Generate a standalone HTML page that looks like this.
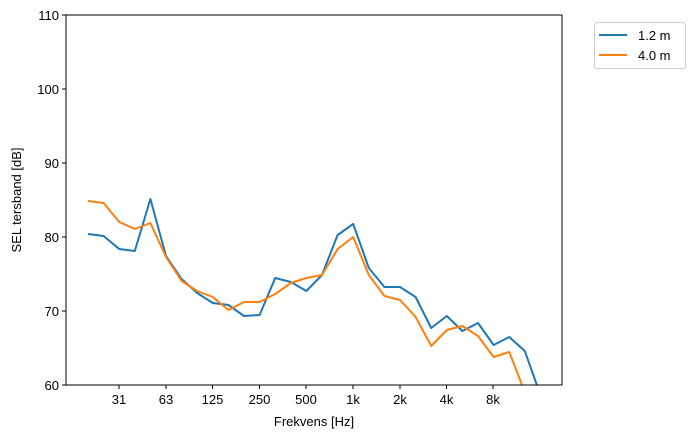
<!DOCTYPE html>
<html><head><meta charset="utf-8"><style>
body{margin:0;background:#fff;}
text{font-family:"Liberation Sans","DejaVu Sans",sans-serif;font-size:13px;fill:#000;}
</style></head><body>
<svg width="693" height="438" viewBox="0 0 693 438" xmlns="http://www.w3.org/2000/svg">
<defs><clipPath id="c"><rect x="66" y="15" width="496" height="370"/></clipPath></defs>
<g clip-path="url(#c)" fill="none" stroke-width="2" stroke-linejoin="round">
<polyline stroke="#1f77b4" points="88,234 103.6,236 119.2,249 134.8,251 150.4,199 166,256 181.6,279 197.2,293 212.8,303 228.4,305 244,316 259.6,315 275.2,278 290.8,282 306.4,291 322,275 337.6,235 353.2,224 368.8,268 384.4,287 400,287 415.6,297 431.2,328 446.8,316 462.4,331 478,323 493.6,345 509.2,337 524.8,351 540.4,395"/>
<polyline stroke="#ff7f0e" points="88,201 103.6,203 119.2,222 134.8,229 150.4,223 166,257 181.6,281 197.2,291 212.8,297 228.4,310 244,302 259.6,302 275.2,294 290.8,283 306.4,278 322,275 337.6,249 353.2,237 368.8,275 384.4,296 400,300 415.6,317 431.2,346 446.8,330 462.4,326 478,336 493.6,357 509.2,352 524.8,392 540.4,420"/>
</g>
<rect x="66" y="15" width="496" height="370" fill="none" stroke="#000" stroke-width="1"/>
<g stroke="#000" stroke-width="1">
<line x1="62" y1="15" x2="66" y2="15"/><line x1="62" y1="89" x2="66" y2="89"/><line x1="62" y1="163" x2="66" y2="163"/><line x1="62" y1="237" x2="66" y2="237"/><line x1="62" y1="311" x2="66" y2="311"/><line x1="62" y1="385" x2="66" y2="385"/>
<line x1="119" y1="385" x2="119" y2="389"/><line x1="166" y1="385" x2="166" y2="389"/><line x1="212.5" y1="385" x2="212.5" y2="389"/><line x1="259.5" y1="385" x2="259.5" y2="389"/><line x1="306" y1="385" x2="306" y2="389"/><line x1="353" y1="385" x2="353" y2="389"/><line x1="400" y1="385" x2="400" y2="389"/><line x1="446.5" y1="385" x2="446.5" y2="389"/><line x1="493" y1="385" x2="493" y2="389"/>
</g>
<g text-anchor="end">
<text x="59" y="20">110</text><text x="59" y="94">100</text><text x="59" y="168">90</text><text x="59" y="242">80</text><text x="59" y="316">70</text><text x="59" y="390">60</text>
</g>
<g text-anchor="middle">
<text x="119" y="404">31</text><text x="166" y="404">63</text><text x="212.5" y="404">125</text><text x="259.5" y="404">250</text><text x="306" y="404">500</text><text x="353" y="404">1k</text><text x="400" y="404">2k</text><text x="446.5" y="404">4k</text><text x="493" y="404">8k</text>
<text x="314" y="426">Frekvens [Hz]</text>
<text transform="translate(21,200) rotate(-90)">SEL tersband [dB]</text>
</g>
<rect x="594.5" y="22.5" width="91" height="46" rx="3" fill="#fff" stroke="#ccc"/>
<line x1="599" y1="35" x2="627" y2="35" stroke="#1f77b4" stroke-width="2"/>
<line x1="599" y1="55" x2="627" y2="55" stroke="#ff7f0e" stroke-width="2"/>
<text x="638" y="40">1.2 m</text><text x="638" y="60">4.0 m</text>
</svg>
</body></html>
